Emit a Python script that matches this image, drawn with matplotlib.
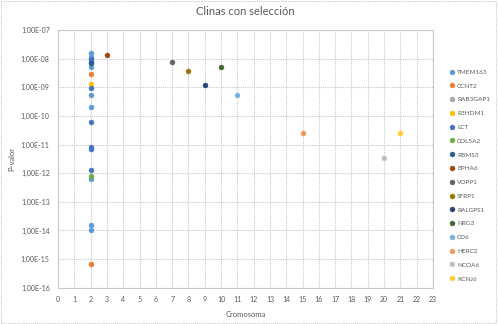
import math
import matplotlib
matplotlib.use("Agg")
import matplotlib.pyplot as plt
from matplotlib.ticker import FuncFormatter, FixedLocator, MultipleLocator
from matplotlib.patches import Rectangle

plt.rcParams['font.family'] = ['Lato', 'DejaVu Sans']

genes = ["TMEM163", "CCNT2", "RAB3GAP1", "R3HDM1", "LCT", "COL5A2", "RBMS3", "EPHA6",
         "VOPP1", "SFRP1", "RALGPS1", "NRG3", "CD6", "HERC2", "NCOA6", "KCNJ6"]
colors = ["#5B9BD5", "#ED7D31", "#A5A5A5", "#FFC000", "#4472C4", "#70AD47", "#255E91", "#9E480E",
          "#636363", "#997300", "#264478", "#43682B", "#7CAFDD", "#F1975A", "#B7B7B7", "#FFCD33"]

# cromosoma y p-valor de cada gen
chrom = {
    "TMEM163": [2, 2, 2, 2, 2, 2, 2, 2],
    "CCNT2": [2, 2],
    "RAB3GAP1": [2],
    "R3HDM1": [2],
    "LCT": [2, 2, 2, 2, 2, 2, 2],
    "COL5A2": [2],
    "RBMS3": [2],
    "EPHA6": [3],
    "VOPP1": [7],
    "SFRP1": [8],
    "RALGPS1": [9],
    "NRG3": [10],
    "CD6": [11],
    "HERC2": [15],
    "NCOA6": [20],
    "KCNJ6": [21],
}
pval = {
    "TMEM163": [1.55e-8, 1.17e-8, 5.2e-9, 5.5e-10, 2.0e-10, 6.5e-13, 1.5e-14, 1.0e-14],
    "CCNT2": [2.9e-9, 6.5e-16],
    "RAB3GAP1": [9.5e-9],
    "R3HDM1": [1.3e-9],
    "LCT": [9.5e-9, 7.9e-9, 9.3e-10, 6.3e-11, 8.5e-12, 7.1e-12, 1.3e-12],
    "COL5A2": [7.8e-13],
    "RBMS3": [6.9e-9],
    "EPHA6": [1.35e-8],
    "VOPP1": [7.4e-9],
    "SFRP1": [3.7e-9],
    "RALGPS1": [1.17e-9],
    "NRG3": [5.0e-9],
    "CD6": [5.6e-10],
    "HERC2": [2.6e-11],
    "NCOA6": [3.4e-12],
    "KCNJ6": [2.6e-11],
}

grey = "#595959"
fig = plt.figure(figsize=(4.98, 3.24), dpi=100)
ax = fig.add_axes([0.1165, 0.112, 0.753, 0.795])

for g, c in zip(genes, colors):
    m = "X" if g == "NCOA6" else "o"
    ax.plot(chrom[g], pval[g], linestyle="none", marker=m, ms=3.6, color=c,
            markeredgewidth=0.3, markeredgecolor=c, label=g, zorder=3)

ax.set_yscale("log")
ax.set_ylim(1e-16, 1e-7)
ax.set_xlim(0, 23)
ax.xaxis.set_major_locator(MultipleLocator(1))
ax.yaxis.set_major_locator(FixedLocator([10.0 ** e for e in range(-16, -6)]))
ax.yaxis.set_minor_locator(FixedLocator([]))
ax.yaxis.set_major_formatter(FuncFormatter(lambda v, p: "1,00E-%02d" % round(-math.log10(v))))

ax.grid(True, which="major", linestyle=(0, (1, 1)), color="#C8C8C8", linewidth=0.8)
for s in ax.spines.values():
    s.set_linestyle((0, (1, 1)))
    s.set_color("#C8C8C8")
    s.set_linewidth(0.8)
ax.tick_params(length=0, labelsize=5, colors=grey, pad=6)

ax.set_title("Clinas con selección", fontsize=8, color=grey, pad=11)
ax.set_xlabel("Cromosoma", fontsize=5.5, color=grey, labelpad=6)
ax.set_ylabel("P-valor", fontsize=5.5, color=grey, labelpad=4)

leg = ax.legend(loc="upper left", bbox_to_anchor=(1.03, 0.87), frameon=False, fontsize=4.6,
                handlelength=0.6, handletextpad=0.5, labelspacing=1.3, labelcolor=grey)

fig.patches.append(Rectangle((0.002, 0.003), 0.994, 0.994, transform=fig.transFigure,
                             fill=False, edgecolor="#C8C8C8", linestyle=(0, (1, 1)), linewidth=0.8))

fig.savefig("out.png", dpi=100)
